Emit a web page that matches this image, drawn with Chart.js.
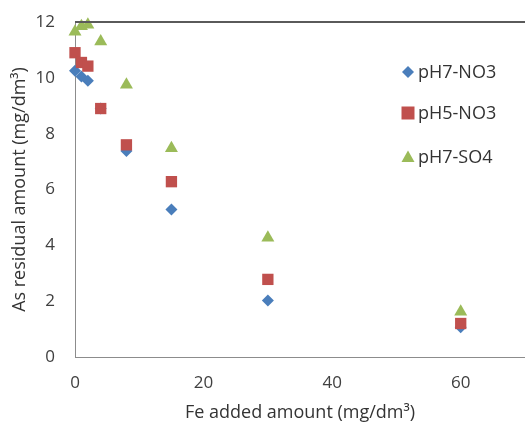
<!DOCTYPE html>
<html><head><meta charset="utf-8">
<script src="https://cdn.jsdelivr.net/npm/chart.js@4/dist/chart.umd.min.js"></script>
<style>html,body{margin:0;padding:0;background:#fff}#w{width:525px;height:425px}</style>
</head><body><div id="w"><canvas id="c" width="525" height="425"></canvas></div>
<script>
const feAdded = [0, 1, 2, 4, 8, 15, 30, 60];
const pH7NO3 = [10.25, 10.05, 9.9, 8.9, 7.38, 5.28, 2.02, 1.07];
const pH5NO3 = [10.9, 10.55, 10.42, 8.9, 7.6, 6.28, 2.78, 1.2];
const pH7SO4 = [11.65, 11.85, 11.9, 11.3, 9.75, 7.48, 4.27, 1.62];
const seriesNames = ['pH7-NO3', 'pH5-NO3', 'pH7-SO4'];
const xTicks = [0, 20, 40, 60];
const yTicks = [0, 2, 4, 6, 8, 10, 12];

const X_MAX = 70;
const colors = ['#4a7ebb', '#c0504d', '#9bbb59'];
const styles = ['rectRot', 'rect', 'triangle'];
const radii = [6, 8, 7.5];
const allSeries = [pH7NO3, pH5NO3, pH7SO4];
const font = "'Open Sans', 'DejaVu Sans', sans-serif";

const datasets = allSeries.map((vals, i) => ({
  label: seriesNames[i],
  data: feAdded.map((x, j) => ({x: x, y: vals[j]})),
  pointStyle: styles[i],
  pointRadius: radii[i],
  pointHoverRadius: radii[i],
  backgroundColor: colors[i],
  borderColor: colors[i],
  borderWidth: 0,
  showLine: false,
  clip: 10,
  order: 2 - i
}));

const deco = {
  id: 'deco',
  afterDraw(chart) {
    const ctx = chart.ctx, a = chart.chartArea;
    ctx.save();
    ctx.strokeStyle = '#5a5a5a';
    ctx.lineWidth = 2;
    ctx.beginPath(); ctx.moveTo(a.left, a.top); ctx.lineTo(525, a.top); ctx.stroke();
    const lx = 408, ly = [72, 113, 157];
    ctx.font = "18px " + font;
    ctx.textBaseline = 'middle';
    for (let i = 0; i < 3; i++) {
      const y = ly[i];
      ctx.fillStyle = colors[i];
      ctx.beginPath();
      if (i === 0) { ctx.moveTo(lx, y - 6); ctx.lineTo(lx + 6, y); ctx.lineTo(lx, y + 6); ctx.lineTo(lx - 6, y); }
      else if (i === 1) { ctx.rect(lx - 6.5, y - 6.5, 13, 13); }
      else { ctx.moveTo(lx, y - 6.5); ctx.lineTo(lx + 6.5, y + 5); ctx.lineTo(lx - 6.5, y + 5); }
      ctx.closePath(); ctx.fill();
      ctx.fillStyle = '#333';
      ctx.textAlign = 'left';
      ctx.fillText(seriesNames[i], lx + 10, y + 1);
    }
    ctx.restore();
  }
};

new Chart(document.getElementById('c'), {
  type: 'scatter',
  data: {datasets},
  plugins: [deco],
  options: {
    responsive: false,
    animation: false,
    layout: {autoPadding: false, padding: {top: 22, right: 0, left: 0, bottom: 0}},
    plugins: {legend: {display: false}, tooltip: {enabled: false}},
    scales: {
      x: {
        type: 'linear', min: 0, max: X_MAX,
        afterBuildTicks: ax => { ax.ticks = xTicks.map(v => ({value: v})); },
        afterFit: ax => { ax.height = 68; ax.paddingLeft = 0; ax.paddingRight = 0; },
        grid: {display: false, drawTicks: false},
        border: {display: true, color: '#8c8c8c', width: 1},
        ticks: {padding: 16, color: '#404040', font: {family: font, size: 17}},
        title: {display: true, text: 'Fe added amount (mg/dm³)', color: '#333', font: {family: font, size: 18}, padding: {top: 0, bottom: 1}}
      },
      y: {
        type: 'linear', min: 0, max: 12,
        afterBuildTicks: ax => { ax.ticks = yTicks.map(v => ({value: v})); },
        afterFit: ax => { ax.width = 75; ax.paddingTop = 0; ax.paddingBottom = 0; },
        grid: {display: false, drawTicks: false},
        border: {display: true, color: '#8c8c8c', width: 1},
        ticks: {padding: 20, color: '#404040', font: {family: font, size: 17}},
        title: {display: true, text: 'As residual amount (mg/dm³)', color: '#333', font: {family: font, size: 18}, padding: {top: 9, bottom: 0}}
      }
    }
  }
});
</script>
</body></html>
